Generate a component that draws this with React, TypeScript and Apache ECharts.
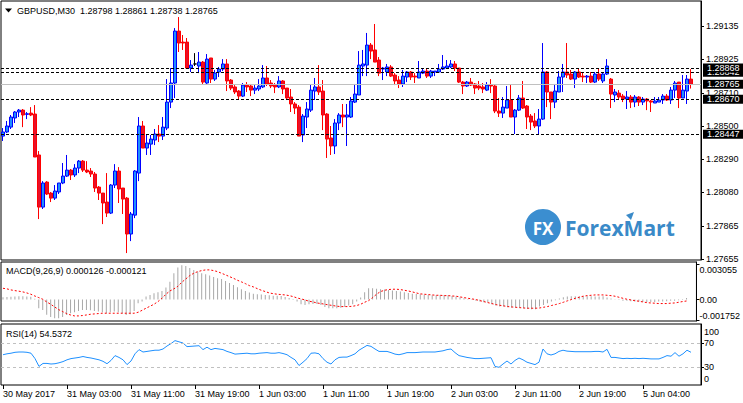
import React, { useEffect, useRef } from 'react';
import * as echarts from 'echarts';

// [open, close, low, high] per 30-minute bar
const candles: number[][] = [
  [1.28436, 1.28462, 1.28405, 1.28487], [1.28462, 1.285, 1.28455, 1.28532], [1.28493, 1.28557, 1.28481, 1.2857], [1.28551, 1.28589, 1.28519, 1.28595], [1.28589, 1.28601, 1.28557, 1.28608],
  [1.28601, 1.2857, 1.28493, 1.28608], [1.28574, 1.28578, 1.28544, 1.28589], [1.28582, 1.2857, 1.28563, 1.2862], [1.28576, 1.28303, 1.28303, 1.28633], [1.28316, 1.27985, 1.27909, 1.28341],
  [1.27985, 1.28138, 1.27973, 1.2815], [1.28144, 1.28068, 1.28062, 1.2815], [1.28074, 1.28042, 1.28017, 1.28081], [1.28042, 1.28087, 1.2803, 1.28125], [1.28081, 1.28138, 1.28068, 1.28138],
  [1.28138, 1.28182, 1.28131, 1.28265], [1.28182, 1.2822, 1.28176, 1.28316], [1.2822, 1.28189, 1.28157, 1.28227], [1.28189, 1.28233, 1.28176, 1.28258], [1.28233, 1.28277, 1.28201, 1.28284],
  [1.28277, 1.2822, 1.28208, 1.28284], [1.2822, 1.28208, 1.28201, 1.28277], [1.28214, 1.28195, 1.28176, 1.28233], [1.28195, 1.28106, 1.28081, 1.28208], [1.28112, 1.28074, 1.2803, 1.28119],
  [1.28074, 1.28011, 1.27877, 1.28074], [1.28017, 1.27947, 1.27922, 1.28201], [1.27947, 1.28125, 1.27941, 1.28131], [1.28125, 1.28214, 1.28106, 1.28258], [1.28214, 1.281, 1.28011, 1.28239],
  [1.28106, 1.28036, 1.27941, 1.28106], [1.28042, 1.27814, 1.27693, 1.28049], [1.27814, 1.27941, 1.27769, 1.27954], [1.27934, 1.28214, 1.27915, 1.2822], [1.28201, 1.285, 1.2815, 1.28557],
  [1.285, 1.2836, 1.2836, 1.28532], [1.2836, 1.28392, 1.28316, 1.28449], [1.28385, 1.28417, 1.28316, 1.28443], [1.28411, 1.28449, 1.28379, 1.28481], [1.28449, 1.28436, 1.28398, 1.28506],
  [1.28436, 1.28493, 1.28411, 1.28557], [1.28487, 1.28652, 1.28474, 1.28798], [1.28652, 1.28773, 1.28614, 1.28868], [1.28773, 1.29103, 1.28678, 1.29122], [1.29103, 1.29027, 1.2897, 1.29192],
  [1.29033, 1.29027, 1.28983, 1.29078], [1.29033, 1.28868, 1.28862, 1.29059], [1.28868, 1.28887, 1.28843, 1.28919], [1.28894, 1.28894, 1.28881, 1.28963], [1.28881, 1.28906, 1.28836, 1.2897],
  [1.28906, 1.28779, 1.28767, 1.28913], [1.28773, 1.28925, 1.28767, 1.28957], [1.28932, 1.28798, 1.28773, 1.28932], [1.28798, 1.28836, 1.28786, 1.28856], [1.28843, 1.28862, 1.28811, 1.28875],
  [1.28862, 1.28894, 1.28849, 1.28925], [1.28894, 1.28786, 1.28722, 1.28925], [1.28792, 1.28741, 1.28728, 1.28798], [1.28748, 1.28716, 1.28703, 1.2876], [1.28722, 1.2869, 1.28671, 1.28728],
  [1.2869, 1.2876, 1.28684, 1.28773], [1.2876, 1.28748, 1.28716, 1.28779], [1.28754, 1.28728, 1.2869, 1.28767], [1.28728, 1.28741, 1.28703, 1.2876], [1.28735, 1.28754, 1.28722, 1.28798],
  [1.28748, 1.28805, 1.28741, 1.28887], [1.28805, 1.28767, 1.28754, 1.28881], [1.28773, 1.28754, 1.28741, 1.28792], [1.2876, 1.28748, 1.28709, 1.28773], [1.28748, 1.28786, 1.28741, 1.28817],
  [1.28786, 1.28735, 1.28703, 1.28792], [1.28741, 1.28678, 1.28665, 1.28741], [1.28684, 1.2864, 1.28589, 1.28735], [1.2864, 1.28614, 1.28576, 1.28652], [1.2862, 1.28436, 1.28436, 1.28633],
  [1.28443, 1.28563, 1.28398, 1.28576], [1.28557, 1.28608, 1.28487, 1.28652], [1.28601, 1.28728, 1.28589, 1.28767], [1.28722, 1.28748, 1.28665, 1.28805], [1.28748, 1.28716, 1.28697, 1.28887],
  [1.28722, 1.2857, 1.28474, 1.28792], [1.28576, 1.28417, 1.28297, 1.28582], [1.28424, 1.28373, 1.28316, 1.285], [1.28373, 1.28519, 1.28322, 1.28544], [1.28519, 1.2857, 1.28474, 1.28582],
  [1.2857, 1.28557, 1.28493, 1.2864], [1.28557, 1.2857, 1.28373, 1.2864], [1.28557, 1.28659, 1.28551, 1.28684], [1.28652, 1.28703, 1.28646, 1.28767], [1.28697, 1.28887, 1.28697, 1.28976],
  [1.28881, 1.28894, 1.28817, 1.28983], [1.28887, 1.29014, 1.28817, 1.29091], [1.29014, 1.28976, 1.28925, 1.29027], [1.28983, 1.28906, 1.28906, 1.29148], [1.28919, 1.28836, 1.28817, 1.28938],
  [1.28862, 1.28868, 1.28792, 1.28875], [1.28843, 1.28875, 1.28817, 1.28894], [1.28875, 1.28817, 1.28811, 1.28887], [1.28824, 1.28786, 1.2876, 1.28836], [1.28792, 1.28767, 1.28741, 1.28817],
  [1.28767, 1.28817, 1.28748, 1.28856], [1.28811, 1.28843, 1.28779, 1.28849], [1.28843, 1.28811, 1.28792, 1.28849], [1.28817, 1.28811, 1.28773, 1.28836], [1.28805, 1.28843, 1.28805, 1.28913],
  [1.28836, 1.28849, 1.2883, 1.28868], [1.28849, 1.28817, 1.28805, 1.28862], [1.28817, 1.28849, 1.28805, 1.28856], [1.28843, 1.28849, 1.28817, 1.28849], [1.28843, 1.28862, 1.28843, 1.28894],
  [1.28862, 1.28875, 1.28856, 1.28951], [1.28868, 1.28881, 1.28862, 1.28919], [1.28875, 1.28894, 1.28868, 1.28919], [1.28894, 1.28868, 1.28849, 1.28913], [1.28868, 1.28779, 1.28773, 1.28868],
  [1.28779, 1.28754, 1.28703, 1.28786], [1.28754, 1.28779, 1.28748, 1.28786], [1.28779, 1.2876, 1.28754, 1.28805], [1.28767, 1.28741, 1.28703, 1.28773], [1.28754, 1.28741, 1.28728, 1.28786],
  [1.28748, 1.28735, 1.28709, 1.28773], [1.28728, 1.2876, 1.28722, 1.28779], [1.2876, 1.28754, 1.28709, 1.28798], [1.28754, 1.28595, 1.28582, 1.2876], [1.28595, 1.28582, 1.28557, 1.28678],
  [1.28582, 1.2862, 1.28551, 1.28684], [1.28614, 1.28665, 1.28614, 1.28754], [1.28665, 1.28557, 1.28557, 1.2876], [1.28557, 1.28601, 1.28449, 1.28608], [1.28601, 1.28678, 1.28595, 1.28697],
  [1.28678, 1.28614, 1.28608, 1.28786], [1.28627, 1.28557, 1.28481, 1.28633], [1.28563, 1.28525, 1.28474, 1.28576], [1.28532, 1.285, 1.28487, 1.28582], [1.285, 1.28544, 1.28449, 1.28608],
  [1.28544, 1.28843, 1.28538, 1.29027], [1.28843, 1.28716, 1.2862, 1.28849], [1.28716, 1.28652, 1.28544, 1.28716], [1.28652, 1.28722, 1.28614, 1.28767], [1.28716, 1.28811, 1.28716, 1.28849],
  [1.28811, 1.28843, 1.28716, 1.28894], [1.28843, 1.28824, 1.28805, 1.29027], [1.2883, 1.28798, 1.28792, 1.28856], [1.28798, 1.28843, 1.28741, 1.28849], [1.28843, 1.28811, 1.28805, 1.28868],
  [1.28817, 1.28811, 1.28779, 1.28843], [1.28811, 1.28817, 1.28773, 1.28824], [1.28817, 1.28779, 1.28773, 1.28843], [1.28779, 1.2883, 1.28773, 1.28843], [1.2883, 1.28798, 1.28786, 1.28868],
  [1.28786, 1.2883, 1.28773, 1.28843], [1.2883, 1.28881, 1.28824, 1.28925], [1.28798, 1.28703, 1.28614, 1.28805], [1.28697, 1.28716, 1.28652, 1.28735], [1.28709, 1.28684, 1.28671, 1.28728],
  [1.2869, 1.28671, 1.28652, 1.28703], [1.28671, 1.28684, 1.28608, 1.28722], [1.28684, 1.28652, 1.28614, 1.28697], [1.28652, 1.28684, 1.2862, 1.28697], [1.28684, 1.28652, 1.28627, 1.2869],
  [1.28652, 1.28671, 1.28633, 1.28684], [1.28671, 1.28659, 1.28601, 1.28678], [1.28659, 1.28652, 1.28589, 1.28665], [1.28646, 1.28659, 1.28646, 1.28684], [1.28652, 1.28665, 1.28652, 1.28684],
  [1.28665, 1.2869, 1.2864, 1.28703], [1.2869, 1.28665, 1.28659, 1.28703], [1.28665, 1.28728, 1.2864, 1.28748], [1.28728, 1.28773, 1.28678, 1.28786], [1.28779, 1.28678, 1.28614, 1.28779],
  [1.28678, 1.28728, 1.28678, 1.28824], [1.28722, 1.28798, 1.2864, 1.28824], [1.28798, 1.28765, 1.28738, 1.28861],
];

const macdMain: number[] = [
  0.0002, 0.00022, 0.00025, 0.00027, 0.00028, 0.00028, 0.00027, 0.00025, 0.00008, -0.00074,
  -0.00089, -0.0013, -0.00149, -0.0016, -0.0016, -0.00149, -0.00132, -0.00117, -0.00109, -0.00097,
  -0.00089, -0.00089, -0.00092, -0.00097, -0.00103, -0.00109, -0.00117, -0.00109, -0.00103, -0.00109,
  -0.00117, -0.00132, -0.00126, -0.00097, -0.00031, -0.00017, 0.00026, 0.0004, 0.00054, 0.00063,
  0.00074, 0.00103, 0.00154, 0.00226, 0.00275, 0.00295, 0.00288, 0.00272, 0.00255, 0.0024,
  0.00226, 0.00217, 0.00206, 0.00194, 0.00183, 0.00177, 0.0016, 0.00143, 0.00126, 0.00106,
  0.00089, 0.00074, 0.0006, 0.00051, 0.00046, 0.00043, 0.0004, 0.00037, 0.00034, 0.00034,
  0.00031, 0.00023, 0.00014, 0.00006, -0.00017, -0.0004, -0.00046, -0.0004, -0.00037, -0.00037,
  -0.00046, -0.00063, -0.00074, -0.00074, -0.00074, -0.00069, -0.00063, -0.00051, -0.0004, -0.00017,
  0.00017, 0.00063, 0.00097, 0.00097, 0.00092, 0.00089, 0.00086, 0.00083, 0.00077, 0.00074,
  0.00069, 0.00063, 0.00057, 0.00051, 0.00049, 0.00046, 0.00043, 0.0004, 0.00037, 0.00037,
  0.0004, 0.0004, 0.00037, 0.00031, 0.00026, 0.0002, 0.00011, 0.00006, -0.00003, -0.00011,
  -0.00017, -0.00023, -0.00026, -0.0004, -0.00051, -0.0006, -0.0006, -0.00066, -0.00069, -0.00069,
  -0.00069, -0.00074, -0.0008, -0.00083, -0.00083, -0.0006, -0.00046, -0.00031, -0.00017, -0.00006,
  0.00009, 0.0002, 0.00026, 0.00029, 0.00029, 0.00029, 0.00029, 0.00029, 0.00029, 0.00026,
  0.00026, 0.00029, 0.00017, 0.00009, 0.00003, -0.00003, -0.00009, -0.00011, -0.00014, -0.00017,
  -0.00017, -0.0002, -0.0002, -0.0002, -0.0002, -0.00017, -0.00017, -0.00014, -0.00009, -0.00009,
  -0.00006, -0.00003, 0.000126,
];

const macdSignal: number[] = [
  0.00097, 0.00092, 0.00083, 0.00077, 0.00072, 0.00066, 0.00057, 0.00046, 0.00031, 0.00017,
  0.00003, -0.0002, -0.0004, -0.00063, -0.00086, -0.00103, -0.0012, -0.00132, -0.0014, -0.0014,
  -0.00137, -0.00132, -0.00126, -0.00123, -0.0012, -0.00117, -0.00117, -0.00117, -0.00117, -0.00117,
  -0.00117, -0.00117, -0.00117, -0.00117, -0.00109, -0.00092, -0.00074, -0.00057, -0.0004, -0.00017,
  0.00011, 0.00046, 0.00074, 0.00092, 0.00114, 0.00149, 0.00177, 0.00206, 0.00226, 0.0024,
  0.00249, 0.00255, 0.00255, 0.00249, 0.0024, 0.00226, 0.00212, 0.00197, 0.00183, 0.00166,
  0.00152, 0.00137, 0.0012, 0.00109, 0.00094, 0.0008, 0.00069, 0.00057, 0.00051, 0.00046,
  0.00043, 0.0004, 0.00034, 0.00026, 0.00014, 0.00006, -0.00003, -0.00014, -0.0002, -0.00029,
  -0.00034, -0.0004, -0.00046, -0.00051, -0.00057, -0.0006, -0.0006, -0.0006, -0.00057, -0.00051,
  -0.0004, -0.00023, -0.00009, 0.00017, 0.00046, 0.00069, 0.0008, 0.00086, 0.00089, 0.00089,
  0.00086, 0.0008, 0.00074, 0.00066, 0.00057, 0.00049, 0.00046, 0.00043, 0.0004, 0.00037,
  0.00037, 0.00034, 0.00034, 0.00031, 0.00029, 0.00023, 0.00017, 0.00011, 0.00006, 0,
  -0.00009, -0.00017, -0.00026, -0.00034, -0.00043, -0.00049, -0.00054, -0.0006, -0.00063, -0.00066,
  -0.00069, -0.00072, -0.00074, -0.00074, -0.00074, -0.00072, -0.00066, -0.0006, -0.00051, -0.00043,
  -0.00034, -0.00023, -0.00011, 0, 0.00011, 0.0002, 0.00029, 0.00034, 0.00037, 0.0004,
  0.0004, 0.0004, 0.00037, 0.00034, 0.00029, 0.0002, 0.00011, 0.00003, -0.00003, -0.00009,
  -0.00014, -0.0002, -0.00026, -0.00029, -0.00031, -0.00034, -0.00034, -0.00034, -0.00031, -0.00029,
  -0.00023, -0.00017, -0.000121,
];

const rsi: number[] = [
  50.5, 52, 53, 54.5, 55, 55, 54.5, 53, 44, 31,
  36, 36, 35, 35.5, 37, 39, 42, 44, 45, 46,
  47.5, 46, 45, 43.5, 42, 39.5, 35.5, 41, 49, 46,
  42, 34, 40, 52, 59, 55, 56, 57, 58, 58,
  60, 65, 69, 74, 72, 70, 64, 64.5, 65, 65.5,
  59, 63, 59, 61, 60, 59, 56, 54, 51.5, 52,
  52.5, 53, 52, 52, 53, 53.5, 54, 53, 53, 54,
  52.5, 50.5, 46, 42, 32.5, 38, 44, 53, 53.5, 52,
  44, 38, 35, 42, 46, 46.5, 46.5, 49, 52, 58,
  62, 66, 64.4, 60, 56, 56, 56, 54, 51.5, 50.5,
  52, 54, 54, 54, 54.5, 55, 55, 55, 55, 56,
  57, 59, 60, 54, 49, 47.5, 46, 45, 44, 44,
  44.5, 45, 45.5, 31, 29.5, 35, 40, 35, 41, 45,
  42, 38, 36, 34, 38, 60, 52, 50, 52, 56,
  58, 56.5, 56, 55.5, 55.5, 55.5, 55.5, 55.5, 56, 56,
  55, 59.5, 46, 46, 45, 44, 44.5, 44, 44.5, 44,
  44.5, 44, 43.5, 43.5, 43.5, 46, 49, 48, 54, 48,
  52, 58, 54.5372,
];

const timeLabels = ['30 May 2017', '31 May 03:00', '31 May 11:00', '31 May 19:00', '1 Jun 03:00', '1 Jun 11:00', '1 Jun 19:00', '2 Jun 03:00', '2 Jun 11:00', '2 Jun 19:00', '5 Jun 04:00'];
const BARS_PER_LABEL = 16;
const SLOTS = 175;

const priceTicks = [1.29135, 1.28925, 1.2871, 1.285, 1.2829, 1.2808, 1.27865, 1.27655];
const dashedLevels = [1.28842, 1.28868, 1.2867, 1.28447];
const bidPrice = 1.28765;
const macdTicks = [0.003055, 0, -0.001752];
const rsiTicks = [100, 70, 30, 0];
const rsiLevels = [70, 30];

const titleText = 'GBPUSD,M30\u00a0\u00a01.28798 1.28861 1.28738 1.28765';
const macdTitle = 'MACD(9,26,9) 0.000126 -0.000121';
const rsiTitle = 'RSI(14) 54.5372';

const FONT = '"Liberation Sans", Arial, sans-serif';

export default function App() {
  const ref = useRef<HTMLDivElement>(null);
  useEffect(() => {
    if (!ref.current) return;
    const chart = echarts.init(ref.current, null, { renderer: 'svg' });
    const categories = Array.from({ length: SLOTS }, (_, i) => String(i));
    const boxLabel = {
      show: true,
      position: 'end',
      distance: 2,
      formatter: (p: any) => Number(p.value).toFixed(5),
      backgroundColor: '#000',
      color: '#fff',
      fontSize: 9,
      fontFamily: FONT,
      lineHeight: 8,
      padding: [1, 4, 0, 4],
    };
    const gridBase = { left: 1, width: 700, show: true, borderColor: '#000', borderWidth: 1, containLabel: false };
    const xBase = (g: number) => ({
      type: 'category',
      gridIndex: g,
      data: categories,
      boundaryGap: true,
      show: g === 2,
      axisLine: { show: false },
      splitLine: { show: false },
      axisTick: {
        show: g === 2,
        alignWithLabel: true,
        interval: (i: number) => i % BARS_PER_LABEL === 0,
        length: 4,
        lineStyle: { color: '#000' },
      },
      axisLabel: {
        show: g === 2,
        interval: (i: number) => i % BARS_PER_LABEL === 0,
        formatter: (_v: string, i: number) => timeLabels[i / BARS_PER_LABEL] ?? '',
        align: 'left',
        fontSize: 9,
        fontFamily: FONT,
        color: '#000',
        margin: 4,
      },
    });
    const dashed = (v: number) => ({ yAxis: v, lineStyle: { type: [3, 2], color: '#000', width: 1 }, label: boxLabel });
    const option: any = {
      animation: false,
      backgroundColor: '#fff',
      textStyle: { fontFamily: FONT },
      grid: [
        { ...gridBase, top: 1, height: 259 },
        { ...gridBase, top: 262, height: 59 },
        { ...gridBase, top: 324, height: 61 },
      ],
      xAxis: [xBase(0), xBase(1), xBase(2)],
      yAxis: [
        {
          type: 'value',
          gridIndex: 0,
          position: 'right',
          min: 1.27649,
          max: 1.29294,
          splitLine: { show: false },
          axisLine: { show: true, lineStyle: { color: '#000' } },
          axisTick: { show: true, customValues: priceTicks, length: 3, lineStyle: { color: '#000' } },
          axisLabel: { customValues: priceTicks, formatter: (v: number) => v.toFixed(5), fontSize: 9, fontFamily: FONT, color: '#000', margin: 5 },
        },
        {
          type: 'value',
          gridIndex: 1,
          position: 'right',
          min: -0.001838,
          max: 0.003227,
          splitLine: { show: false },
          axisLine: { show: true, lineStyle: { color: '#000' } },
          axisTick: { show: true, customValues: macdTicks, length: 3, lineStyle: { color: '#000' } },
          axisLabel: {
            customValues: macdTicks,
            formatter: (v: number) => {
              if (v === 0) return '0.00';
              const s = v.toFixed(6);
              return v > 0 ? `{t|${s}}` : `{b|${s}}`;
            },
            rich: {
              t: { padding: [12, 0, 0, 0], fontSize: 9, fontFamily: FONT, color: '#000' },
              b: { padding: [0, 0, 8, 0], fontSize: 9, fontFamily: FONT, color: '#000' },
            },
            fontSize: 9,
            fontFamily: FONT,
            color: '#000',
            margin: 3,
          },
        },
        {
          type: 'value',
          gridIndex: 2,
          position: 'right',
          min: 0,
          max: 101.7,
          splitLine: { show: false },
          axisLine: { show: true, lineStyle: { color: '#000' } },
          axisTick: { show: true, customValues: rsiLevels, length: 3, lineStyle: { color: '#000' } },
          axisLabel: {
            customValues: rsiTicks,
            formatter: (v: number) => (v === 100 ? `{t|${v}}` : v === 0 ? `{b|${v}}` : String(v)),
            rich: {
              t: { padding: [13, 0, 0, 0], fontSize: 9, fontFamily: FONT, color: '#000' },
              b: { padding: [0, 0, 13, 0], fontSize: 9, fontFamily: FONT, color: '#000' },
            },
            fontSize: 9,
            fontFamily: FONT,
            color: '#000',
            margin: 3,
          },
        },
      ],
      graphic: [
        { type: 'polygon', shape: { points: [[5, 8.5], [12, 8.5], [8.5, 12.5]] }, style: { fill: '#000' } },
        { type: 'text', x: 17, y: 10.5, style: { text: titleText, fill: '#000', fontSize: 9, fontFamily: FONT, verticalAlign: 'middle' } },
        { type: 'text', x: 6, y: 271, style: { text: macdTitle, fill: '#000', fontSize: 9, fontFamily: FONT, verticalAlign: 'middle' } },
        { type: 'text', x: 6, y: 334, style: { text: rsiTitle, fill: '#000', fontSize: 9, fontFamily: FONT, verticalAlign: 'middle' } },
        { type: 'circle', shape: { cx: 543, cy: 227, r: 18 }, style: { fill: '#3B8ED0' } },
        { type: 'text', x: 543, y: 228, style: { text: 'FX', fill: '#fff', fontSize: 17, fontWeight: 'bold', fontFamily: '"Open Sans", sans-serif', align: 'center', verticalAlign: 'middle' } },
        { type: 'text', x: 565, y: 228, style: { text: 'ForexMart', fill: '#3A8AC8', fontSize: 21, fontWeight: 'bold', fontFamily: '"Open Sans", sans-serif', verticalAlign: 'middle' } },
        { type: 'polygon', shape: { points: [[634, 212], [626, 215], [631, 220]] }, style: { fill: '#3A8AC8' } },
      ],
      series: [
        {
          type: 'candlestick',
          xAxisIndex: 0,
          yAxisIndex: 0,
          data: candles,
          barWidth: 3,
          itemStyle: {
            color: '#1E90FF',
            color0: '#E8102A',
            borderColor: '#0000FF',
            borderColor0: '#FF0000',
            borderColorDoji: '#000',
            borderWidth: 1,
          },
          markLine: {
            silent: true,
            animation: false,
            precision: 5,
            symbol: ['none', 'none'],
            data: [
              ...dashedLevels.slice(0, 2).map(dashed),
              { yAxis: bidPrice, lineStyle: { type: 'solid', color: '#C0C0C0', width: 1 }, label: boxLabel },
              ...dashedLevels.slice(2).map(dashed),
            ],
          },
        },
        {
          type: 'bar',
          xAxisIndex: 1,
          yAxisIndex: 1,
          data: macdMain,
          barWidth: 1,
          itemStyle: { color: '#A8A8A8' },
        },
        {
          type: 'line',
          xAxisIndex: 1,
          yAxisIndex: 1,
          data: macdSignal,
          symbol: 'none',
          lineStyle: { color: '#FF0000', width: 1, type: [2, 2] },
        },
        {
          type: 'line',
          xAxisIndex: 2,
          yAxisIndex: 2,
          data: rsi,
          symbol: 'none',
          lineStyle: { color: '#1E90FF', width: 1 },
          markLine: {
            silent: true,
            animation: false,
            symbol: ['none', 'none'],
            label: { show: false },
            lineStyle: { color: '#C0C0C0', type: [3, 3], width: 1 },
            data: rsiLevels.map((v) => ({ yAxis: v })),
          },
        },
      ],
    };
    chart.setOption(option);
    return () => chart.dispose();
  }, []);
  return <div ref={ref} style={{ position: 'absolute', left: 0, top: 0, width: 743, height: 403, background: '#fff' }} />;
}
